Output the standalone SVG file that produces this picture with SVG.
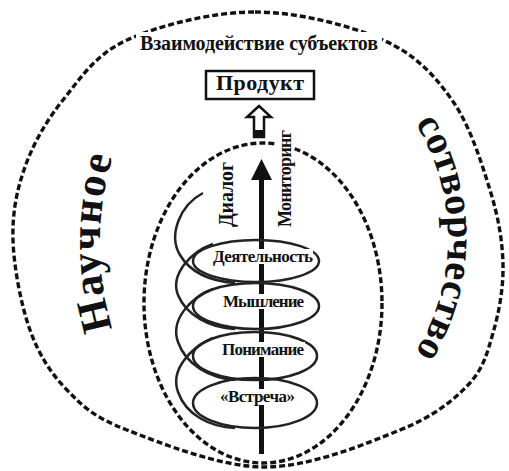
<svg xmlns="http://www.w3.org/2000/svg" width="509" height="471" viewBox="0 0 509 471">
<style>
text{font-family:"Liberation Serif","Times New Roman",serif;font-weight:bold;fill:#111}
.dash{fill:none;stroke:#111;stroke-width:3.4;stroke-dasharray:6 3}
.ring{fill:none;stroke:#222;stroke-width:2.5}
.lbl{font-size:17px;text-anchor:middle}
.bg{fill:#fff}
</style>
<defs>
<path id="arcL" d="M 116.1 340 A 300 300 0 0 1 116.1 146"/>
<path id="arcR" d="M 404.7 108 A 217 217 0 0 1 404.7 368"/>
</defs>
<rect width="509" height="471" fill="#fff"/>
<g id="outer">
<path class="dash" d="M255 12 C297.7 12 350.2 25.3 383 40 C415.8 54.7 434.2 75 452 100 C469.8 125 481.5 162.5 490 190 C498.5 217.5 502.5 241.2 503 265 C503.5 288.8 498.8 313 493 333 C487.2 353 483.5 368.8 468 385 C452.5 401.2 433.8 416.3 400 430 C366.2 443.7 310.5 467 265 467 C219.5 467 160 442.8 127 430 C94 417.2 83.2 406.7 67 390 C50.8 373.3 39 355 30 330 C21 305 13.8 267.2 13 240 C12.2 212.8 16.7 190.3 25 167 C33.3 143.7 46 121.2 63 100 C80 78.8 95 54.7 127 40 C159 25.3 212.3 12 255 12 Z"/>
<rect class="bg" x="136" y="32" width="246" height="22"/>
<text x="259" y="50" font-size="20" text-anchor="middle" textLength="238">Взаимодействие субъектов</text>
<text font-size="43"><textPath href="#arcL" startOffset="50%" text-anchor="middle" textLength="174">Научное</textPath></text>
<text font-size="40"><textPath href="#arcR" startOffset="50%" text-anchor="middle" textLength="242">сотворчество</textPath></text>
</g>
<g id="inner">
<ellipse class="dash" cx="263" cy="303" rx="119" ry="160" stroke-width="3"/>
</g>
<g id="product">
<rect x="206" y="71" width="108" height="28" fill="#fff" stroke="#111" stroke-width="2.5"/>
<text x="260" y="90" font-size="22" text-anchor="middle" textLength="88">Продукт</text>
</g>
<g id="connectors">
<polygon points="259,106 271,117 264,117 264,137 254,137 254,117 247,117" fill="#fff" stroke="#111" stroke-width="2.5"/>
<rect x="254" y="130" width="10" height="8" fill="#111"/>
<path class="ring" d="M203 193 C180 205 168 235 180 255 C190 272 210 281 235 283"/>
<path class="ring" d="M213 244 C190 252 170 275 178 295 C186 315 210 328 235 329"/>
<path class="ring" d="M213 289 C190 298 170 320 178 342 C186 365 210 378 235 380"/>
<path class="ring" d="M213 338 C190 348 170 370 178 392 C186 415 210 427 235 428"/>
<line x1="261.5" y1="454" x2="261.5" y2="176" stroke="#111" stroke-width="5"/>
<polygon points="261.5,159 251,180 272,180" fill="#111"/>
</g>
<g id="dialog">
<text transform="translate(233,194.5) rotate(-90)" font-size="20" text-anchor="middle" textLength="65">Диалог</text>
</g>
<g id="monitoring">
<rect class="bg" x="277" y="130" width="16" height="97"/>
<text transform="translate(291,178.5) rotate(-90)" font-size="18" text-anchor="middle" textLength="97">Мониторинг</text>
</g>
<g id="activity">
<ellipse class="ring" cx="256" cy="261" rx="63" ry="21"/>
<rect class="bg" x="213" y="249" width="100" height="15"/>
<text class="lbl" x="263" y="262" textLength="100">Деятельность</text>
</g>
<g id="thinking">
<ellipse class="ring" cx="256" cy="306" rx="63" ry="23"/>
<rect class="bg" x="222" y="294" width="83" height="15"/>
<text class="lbl" x="263.5" y="307" textLength="81">Мышление</text>
</g>
<g id="understanding">
<ellipse class="ring" cx="255" cy="356" rx="62" ry="24"/>
<rect class="bg" x="221" y="342" width="84" height="15"/>
<text class="lbl" x="263" y="355" textLength="82">Понимание</text>
</g>
<g id="meeting">
<ellipse class="ring" cx="255" cy="403" rx="62" ry="25"/>
<rect class="bg" x="219" y="389" width="78" height="16"/>
<text class="lbl" x="257.5" y="402" textLength="75">«Встреча»</text>
</g>
</svg>
